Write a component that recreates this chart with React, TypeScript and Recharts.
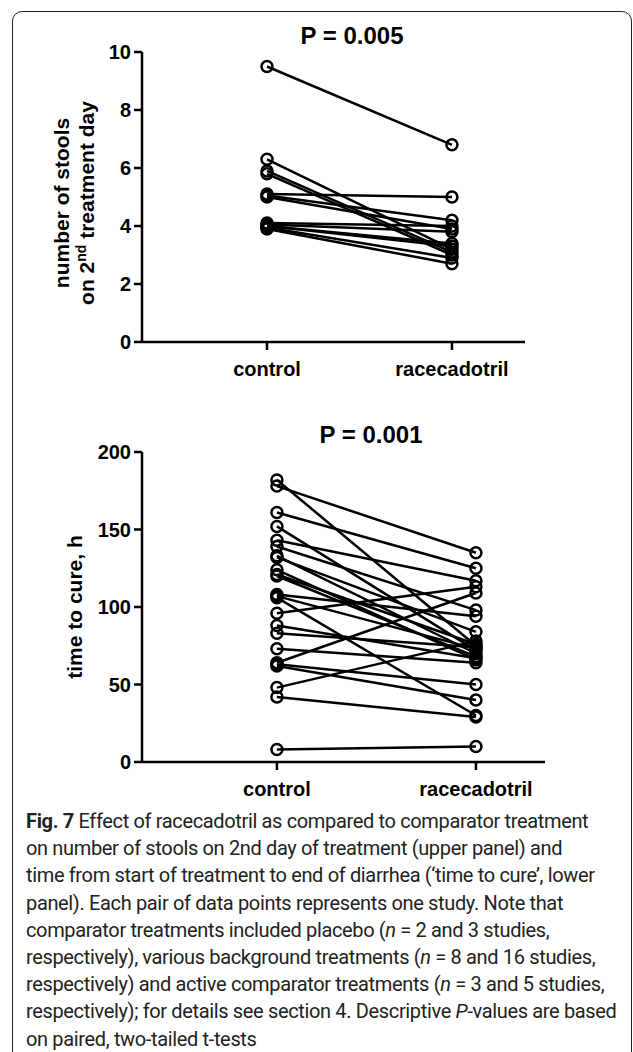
import React from "react";
import { Scatter, ScatterChart, XAxis, YAxis } from "recharts";

// upper panel: number of stools on 2nd treatment day, one pair per study
const stoolsControl = [9.5, 6.3, 5.9, 5.8, 5.1, 5.05, 5.0, 4.1, 4.05, 4.0, 4.0, 3.95, 3.9];
const stoolsRacecadotril = [6.8, 3.2, 3.1, 3.0, 5.0, 4.2, 3.9, 4.0, 3.8, 3.4, 3.3, 2.9, 2.7];
const stoolsTicks = [0, 2, 4, 6, 8, 10];

// lower panel: time to cure (h), one pair per study
const cureControl = [
  182, 178, 161, 152, 143, 139, 133, 132, 124, 121, 120, 108, 107, 106, 96, 88, 83, 73, 64, 63, 62,
  48, 42, 8,
];
const cureRacecadotril = [
  75, 135, 125, 72, 117, 98, 70, 84, 66, 76, 68, 94, 73, 30, 113, 67, 74, 64, 109, 50, 40, 78, 29,
  10,
];
const cureTicks = [0, 50, 100, 150, 200];

const groups = ["control", "racecadotril"];

const captionLines = [
  "on number of stools on 2nd day of treatment (upper panel) and",
  "time from start of treatment to end of diarrhea (\u2018time to cure\u2019, lower",
  "panel). Each pair of data points represents one study. Note that",
];

const FONT = "'Liberation Sans', Arial, sans-serif";
const STROKE = 2.5;

function Ring(props: any) {
  const { cx, cy } = props;
  return <circle cx={cx} cy={cy} r={5.5} fill="none" stroke="#000" strokeWidth={STROKE} />;
}

function pairs(a: number[], b: number[]) {
  return a.map((c, i) => [
    { x: 0, y: c },
    { x: 1, y: b[i] },
  ]);
}

function Panel({
  top,
  height,
  control,
  treated,
  ticks,
  xDomain,
  marginRight,
  yLabel,
}: {
  top: number;
  height: number;
  control: number[];
  treated: number[];
  ticks: number[];
  xDomain: [number, number];
  marginRight: number;
  yLabel: (vb: any) => React.ReactNode;
}) {
  const tickStyle = { fontSize: 20, fontWeight: 700, fill: "#000", fontFamily: FONT };
  return (
    <div style={{ position: "absolute", left: 0, top }}>
      <ScatterChart
        width={633}
        height={height}
        margin={{ top: 52, right: marginRight, bottom: 18, left: 90 }}
      >
        <XAxis
          type="number"
          dataKey="x"
          domain={xDomain}
          ticks={[0, 1]}
          tickFormatter={(v: number) => groups[v]}
          allowDataOverflow
          height={40}
          tickSize={8}
          tickMargin={12}
          tick={tickStyle}
          axisLine={{ stroke: "#000", strokeWidth: STROKE }}
          tickLine={{ stroke: "#000", strokeWidth: STROKE }}
        />
        <YAxis
          type="number"
          dataKey="y"
          domain={[ticks[0], ticks[ticks.length - 1]]}
          ticks={ticks}
          width={52}
          tickSize={8}
          tickMargin={3}
          tick={tickStyle}
          axisLine={{ stroke: "#000", strokeWidth: STROKE }}
          tickLine={{ stroke: "#000", strokeWidth: STROKE }}
          label={{ content: (p: any) => yLabel(p.viewBox) }}
        />
        {pairs(control, treated).map((d, i) => (
          <Scatter
            key={i}
            data={d}
            line={{ stroke: "#000", strokeWidth: STROKE }}
            shape={Ring}
            isAnimationActive={false}
          />
        ))}
      </ScatterChart>
    </div>
  );
}

export default function App() {
  const labelStyle = { fontSize: 21, fontWeight: 700, fontFamily: FONT, fill: "#000" };
  return (
    <div
      style={{
        position: "absolute",
        left: 0,
        top: 0,
        width: 633,
        height: 1052,
        overflow: "hidden",
        background: "#fff",
      }}
    >
      <div
        style={{
          position: "absolute",
          left: 12,
          top: 11,
          width: 618,
          height: 1100,
          border: "1.5px solid #222",
          borderRadius: 10,
        }}
      />

      <Panel
        top={0}
        height={400}
        control={stoolsControl}
        treated={stoolsRacecadotril}
        ticks={stoolsTicks}
        xDomain={[-0.676, 1.395]}
        marginRight={108}
        yLabel={(vb: any) => {
          const cy = vb.y + vb.height / 2 + 6;
          return (
            <g>
              <text
                {...labelStyle}
                textAnchor="middle"
                transform={`translate(69, ${cy}) rotate(-90)`}
              >
                number of stools
              </text>
              <text
                {...labelStyle}
                textAnchor="middle"
                transform={`translate(94, ${cy}) rotate(-90)`}
              >
                on 2
                <tspan fontSize={14} dy={-8}>
                  nd
                </tspan>
                <tspan dy={8}> treatment day</tspan>
              </text>
            </g>
          );
        }}
      />
      <div
        style={{
          position: "absolute",
          left: 352,
          top: 22,
          transform: "translateX(-50%)",
          fontFamily: FONT,
          fontWeight: 700,
          fontSize: 24,
          whiteSpace: "nowrap",
        }}
      >
        P = 0.005
      </div>

      <Panel
        top={400}
        height={420}
        control={cureControl}
        treated={cureRacecadotril}
        ticks={cureTicks}
        xDomain={[-0.678, 1.347]}
        marginRight={88}
        yLabel={(vb: any) => (
          <text
            {...labelStyle}
            textAnchor="middle"
            transform={`translate(82, ${vb.y + vb.height / 2}) rotate(-90)`}
          >
            time to cure, h
          </text>
        )}
      />
      <div
        style={{
          position: "absolute",
          left: 371,
          top: 421,
          transform: "translateX(-50%)",
          fontFamily: FONT,
          fontWeight: 700,
          fontSize: 24,
          whiteSpace: "nowrap",
        }}
      >
        P = 0.001
      </div>

      <div
        style={{
          position: "absolute",
          left: 26,
          top: 808,
          fontFamily: "Roboto, 'Open Sans', sans-serif",
          fontSize: 20,
          lineHeight: "27.2px",
          color: "#222",
          whiteSpace: "nowrap",
          letterSpacing: -0.35,
        }}
      >
        <div>
          <b>Fig. 7</b> Effect of racecadotril as compared to comparator treatment
        </div>
        {captionLines.map((l) => (
          <div key={l}>{l}</div>
        ))}
        <div>
          comparator treatments included placebo (<i>n</i> = 2 and 3 studies,
        </div>
        <div>
          respectively), various background treatments (<i>n</i> = 8 and 16 studies,
        </div>
        <div>
          respectively) and active comparator treatments (<i>n</i> = 3 and 5 studies,
        </div>
        <div>
          respectively); for details see section 4. Descriptive <i>P</i>-values are based
        </div>
        <div>on paired, two-tailed t-tests</div>
      </div>
    </div>
  );
}
